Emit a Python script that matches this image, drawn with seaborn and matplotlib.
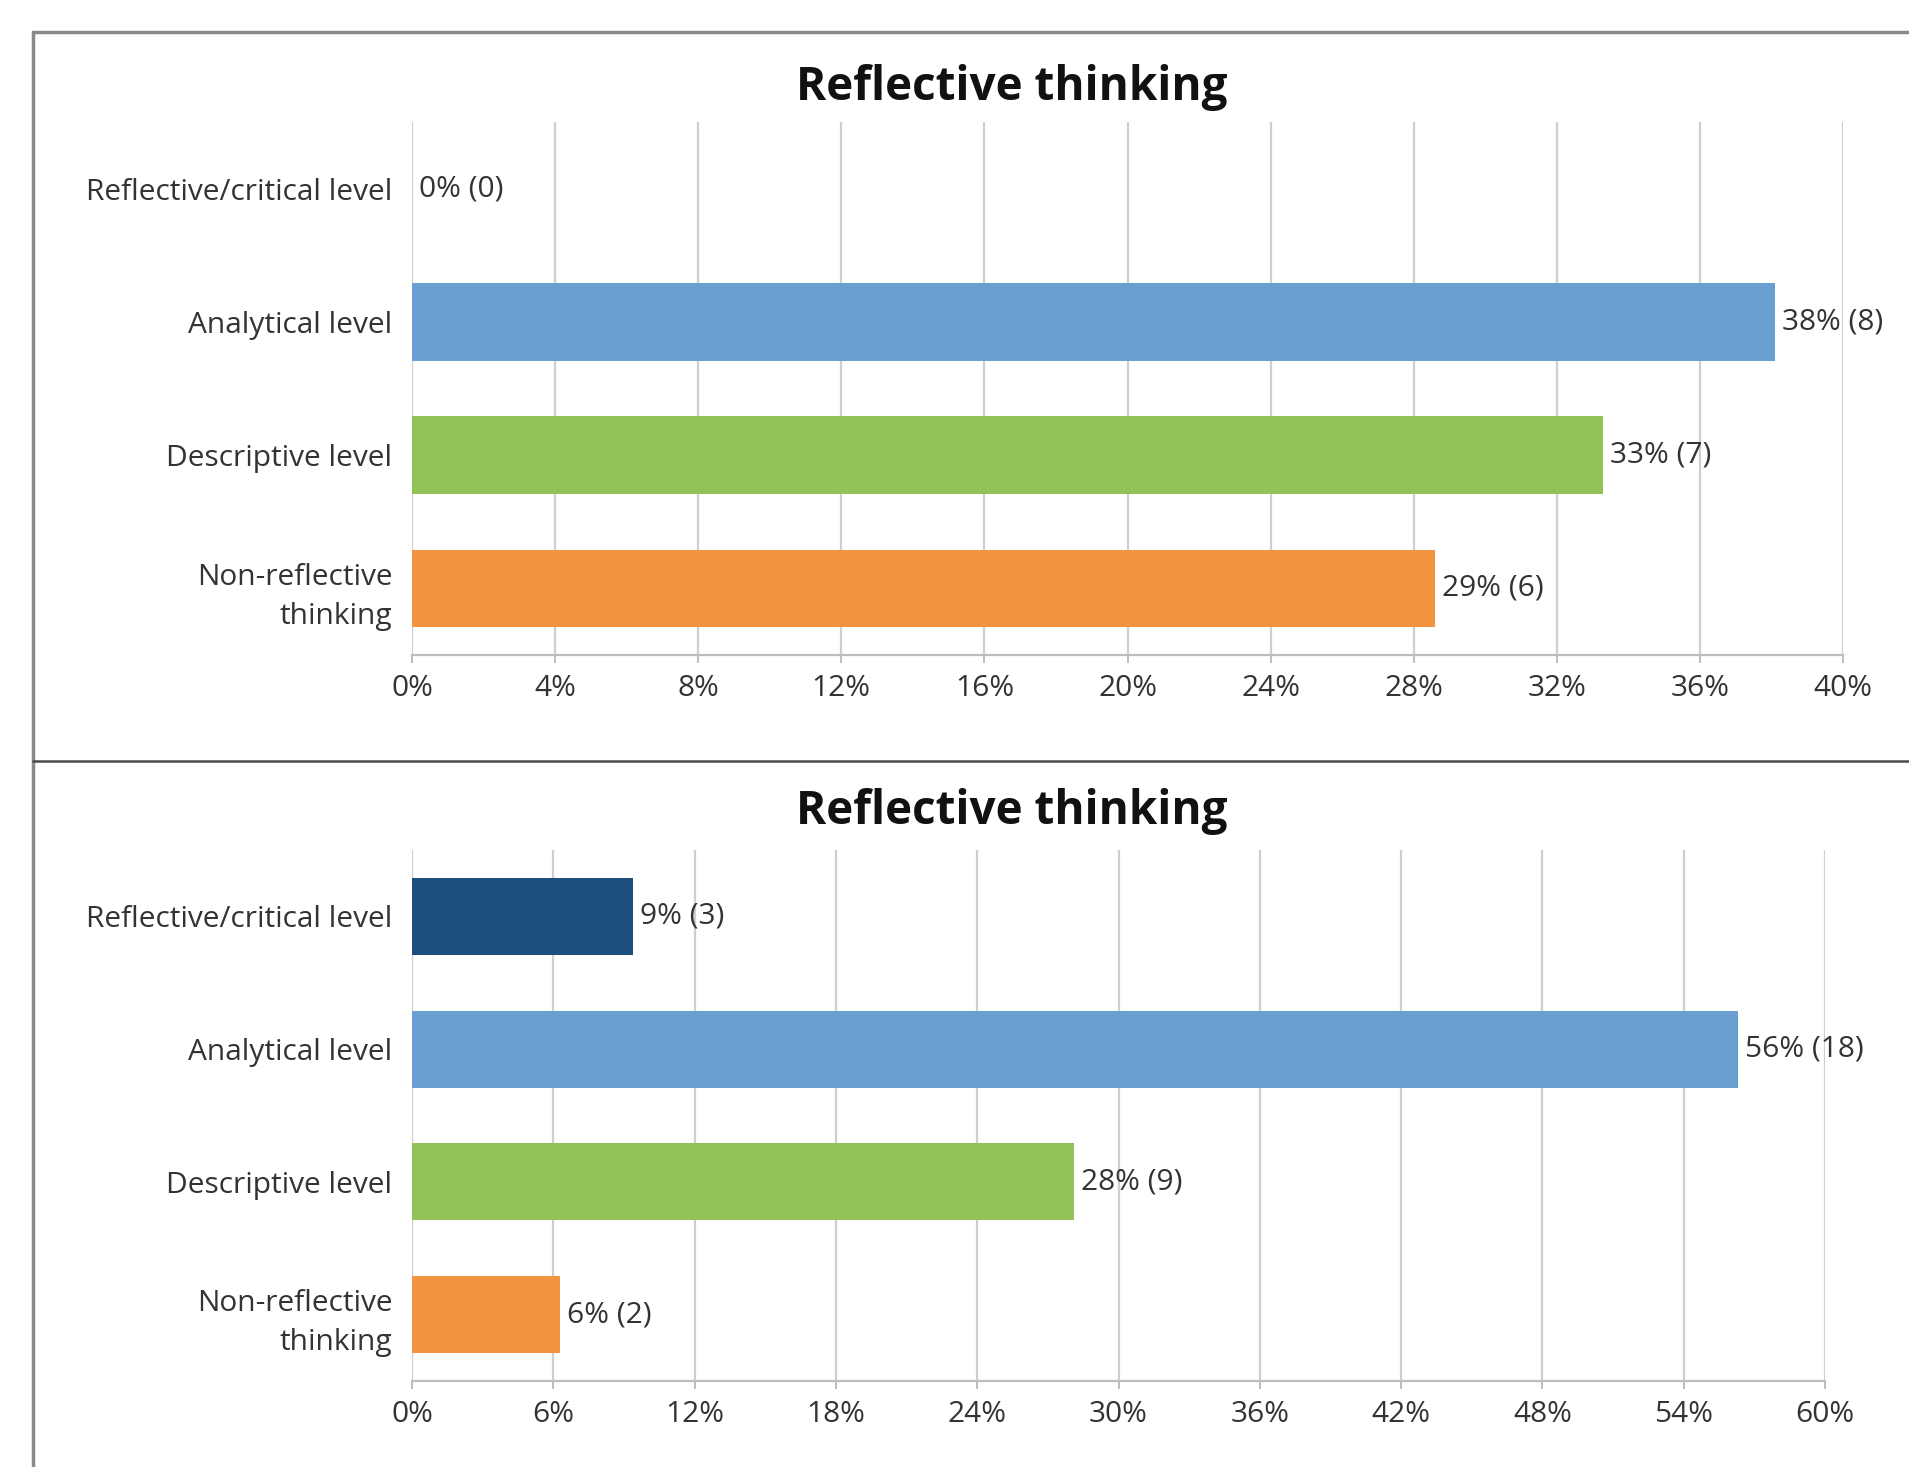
import matplotlib
matplotlib.use("Agg")
import matplotlib.pyplot as plt
from matplotlib.lines import Line2D
from matplotlib.ticker import FuncFormatter
import seaborn as sns
import pandas as pd

# ---- data ----
levels = ["Reflective/critical level", "Analytical level", "Descriptive level", "Non-reflective\nthinking"]
top_pct = [0.0, 38.1, 33.3, 28.6]
top_count = [0, 8, 7, 6]
bottom_pct = [9.4, 56.3, 28.1, 6.3]
bottom_count = [3, 18, 9, 2]
title = "Reflective thinking"
top_ticks = [0, 4, 8, 12, 16, 20, 24, 28, 32, 36, 40]
bottom_ticks = [0, 6, 12, 18, 24, 30, 36, 42, 48, 54, 60]
colors = ["#1C4F7E", "#6A9FD1", "#93C256", "#F29440"]

sns.set_theme(style="white")
plt.rcParams["font.family"] = ["Open Sans", "DejaVu Sans"]

W, H = 1909, 1467
fig = plt.figure(figsize=(W / 100, H / 100), dpi=100)
fig.patch.set_facecolor("white")

TEXT = "#333333"
GRID = "#cfcfcf"
FS = 21.5


def draw(ax, pct, counts, ticks):
    df = pd.DataFrame({"level": levels, "pct": pct})
    sns.barplot(data=df, y="level", x="pct", hue="level", palette=colors,
                order=levels, hue_order=levels, width=0.58, legend=False,
                saturation=1, ax=ax, edgecolor="none")
    ax.set_xlim(ticks[0], ticks[-1])
    ax.set_xticks(ticks)
    ax.xaxis.set_major_formatter(FuncFormatter(lambda v, p: f"{int(round(v))}%"))
    ax.set_xlabel("")
    ax.set_ylabel("")
    ax.set_axisbelow(True)
    ax.grid(axis="x", color=GRID, lw=1.6)
    ax.grid(axis="y", visible=False)
    for s in ["top", "right", "left"]:
        ax.spines[s].set_visible(False)
    ax.spines["bottom"].set_color("#bdbdbd")
    ax.spines["bottom"].set_linewidth(1.6)
    ax.tick_params(axis="x", bottom=True, length=6, width=1.4, color="#bdbdbd",
                   labelsize=FS, labelcolor=TEXT, pad=8)
    ax.tick_params(axis="y", left=False, labelsize=FS, labelcolor=TEXT, pad=8)
    for lab in ax.get_yticklabels():
        lab.set_horizontalalignment("right")
        lab.set_multialignment("right")
        lab.set_linespacing(1.45)
    for cont, p, c in zip(ax.containers, pct, counts):
        ax.bar_label(cont, labels=[f"{int(round(p))}% ({c})"], padding=5,
                     fontsize=FS, color=TEXT)


ax1 = fig.add_axes([412 / W, 1 - 655 / H, (1843 - 412) / W, (655 - 122) / H])
draw(ax1, top_pct, top_count, top_ticks)

ax2 = fig.add_axes([412 / W, 1 - 1381 / H, (1825 - 412) / W, (1381 - 850) / H])
draw(ax2, bottom_pct, bottom_count, bottom_ticks)

fig.text(1012 / W, 1 - 100 / H, title, ha="center", va="baseline",
         fontsize=33, fontweight="bold", color="#111111")
fig.text(1012 / W, 1 - 824 / H, title, ha="center", va="baseline",
         fontsize=33, fontweight="bold", color="#111111")

# frame lines
fig.add_artist(Line2D([33 / W, 33 / W], [0, 1 - 32 / H], transform=fig.transFigure,
                      color="#8a8a8a", lw=2.5))
fig.add_artist(Line2D([33 / W, 1], [1 - 32 / H, 1 - 32 / H], transform=fig.transFigure,
                      color="#8a8a8a", lw=2.5))
fig.add_artist(Line2D([33 / W, 1], [1 - 761 / H, 1 - 761 / H], transform=fig.transFigure,
                      color="#4a4a4a", lw=1.8))

fig.savefig("out.png", dpi=100, facecolor="white")
